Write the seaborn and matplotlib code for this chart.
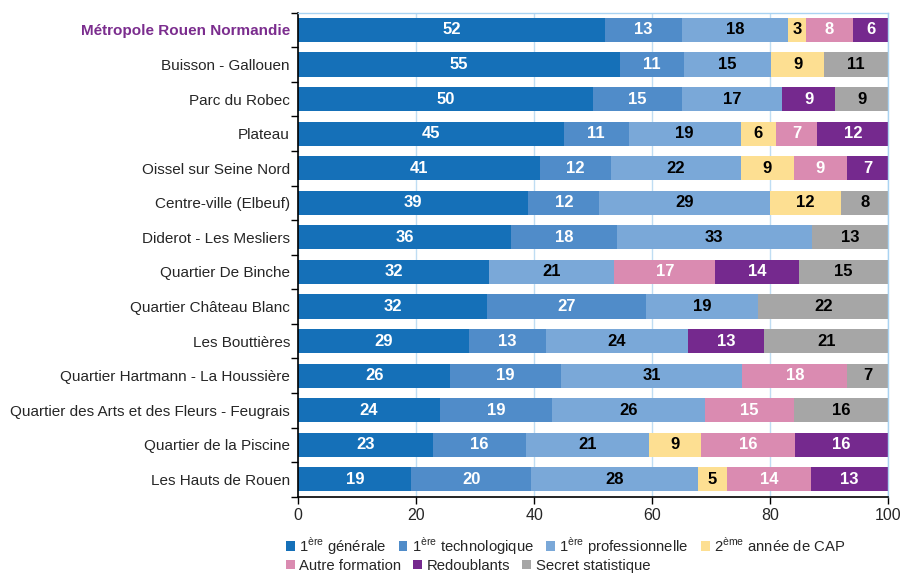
import numpy as np
import pandas as pd
import matplotlib
matplotlib.use("Agg")
import matplotlib.pyplot as plt
import seaborn as sns
from matplotlib.patches import Patch
from matplotlib.ticker import MultipleLocator

sns.set_style("white")
plt.rcParams['font.family'] = ['Liberation Sans', 'DejaVu Sans']
plt.rcParams['mathtext.fontset'] = 'custom'
plt.rcParams['mathtext.rm'] = 'Liberation Sans'

quartiers = [
    "Métropole Rouen Normandie", "Buisson - Gallouen", "Parc du Robec", "Plateau",
    "Oissel sur Seine Nord", "Centre-ville (Elbeuf)", "Diderot - Les Mesliers",
    "Quartier De Binche", "Quartier Château Blanc", "Les Bouttières",
    "Quartier Hartmann - La Houssière", "Quartier des Arts et des Fleurs - Feugrais",
    "Quartier de la Piscine", "Les Hauts de Rouen",
]
generale      = [52, 55, 50, 45, 41, 39, 36, 32, 32, 29, 26, 24, 23, 19]
technologique = [13, 11, 15, 11, 12, 12, 18, 0, 27, 13, 19, 19, 16, 20]
professionnel = [18, 15, 17, 19, 22, 29, 33, 21, 19, 24, 31, 26, 21, 28]
cap           = [3, 9, 0, 6, 9, 12, 0, 0, 0, 0, 0, 0, 9, 5]
autre         = [8, 0, 0, 7, 9, 0, 0, 17, 0, 0, 18, 15, 16, 14]
redoublants   = [6, 0, 9, 12, 7, 0, 0, 14, 0, 13, 0, 0, 16, 13]
secret        = [0, 11, 9, 0, 0, 8, 13, 15, 22, 21, 7, 16, 0, 0]

series = [
    ("1$^{\\mathregular{ère}}$ générale", generale, "#1570B8", "white"),
    ("1$^{\\mathregular{ère}}$ technologique", technologique, "#508CC9", "white"),
    ("1$^{\\mathregular{ère}}$ professionnelle", professionnel, "#7AA8D8", "black"),
    ("2$^{\\mathregular{ème}}$ année de CAP", cap, "#FDDF92", "black"),
    ("Autre formation", autre, "#DA8BB1", "white"),
    ("Redoublants", redoublants, "#75298E", "white"),
    ("Secret statistique", secret, "#A6A6A6", "black"),
]

df = pd.DataFrame({name: vals for name, vals, _, _ in series}, index=quartiers)
# scale each row so the bar fills 100 %
widths = df.div(df.sum(axis=1), axis=0) * 100

fig = plt.figure(figsize=(9.03, 5.74), dpi=100)
ax = fig.add_axes([0.3303, 0.1347, 0.9837 - 0.3303, 0.9779 - 0.1347])

ypos = np.arange(len(quartiers))
left = np.zeros(len(quartiers))
for name, vals, color, tcolor in series:
    w = widths[name].values
    ax.barh(ypos, w, left=left, height=0.70, color=color, edgecolor="none", zorder=2)
    for y, (wi, lab, l0) in enumerate(zip(w, df[name].values, left)):
        if lab > 0:
            ax.text(l0 + wi / 2, y, str(lab), ha="center", va="center",
                    color=tcolor, fontsize=12, fontweight="bold", zorder=3)
    left += w

ax.set_xlim(0, 100)
ax.set_ylim(len(quartiers) - 0.5, -0.5)
ax.xaxis.set_major_locator(MultipleLocator(20))
ax.set_yticks(ypos)
ax.set_yticklabels(quartiers)
ax.set_yticks(np.arange(-0.5, len(quartiers)), minor=True)
ax.tick_params(axis="y", which="major", length=0, pad=6, labelsize=11)
ax.tick_params(axis="y", which="minor", length=5, width=1, color="black", direction="out", left=True)
ax.tick_params(axis="x", length=5, width=1, color="black", direction="out", labelsize=11.5, bottom=True)

lbl0 = ax.get_yticklabels()[0]
lbl0.set_color("#7B2D8E")
lbl0.set_fontweight("bold")

ax.grid(axis="x", color="#BFDDF3", linewidth=1, zorder=0)
ax.grid(axis="y", visible=False)
ax.set_axisbelow(True)
for side in ["left", "bottom"]:
    ax.spines[side].set_color("black")
    ax.spines[side].set_linewidth(1.2)
for side in ["top", "right"]:
    ax.spines[side].set_color("#A9D3F2")
    ax.spines[side].set_linewidth(1)

handles = [Patch(facecolor=c, edgecolor="none", label=n) for n, _, c, _ in series]
leg_kw = dict(frameon=False, fontsize=10.7, handlelength=0.6, handleheight=0.6,
              handletextpad=0.3, columnspacing=0.8, borderpad=0, borderaxespad=0)
fig.legend(handles=handles[:4], ncol=4, loc="upper left",
           bbox_to_anchor=(286 / 903, 1 - 535 / 574), **leg_kw)
fig.legend(handles=handles[4:], ncol=3, loc="upper left",
           bbox_to_anchor=(286 / 903, 1 - 559 / 574), **leg_kw)

fig.savefig("out.png", dpi=100)
